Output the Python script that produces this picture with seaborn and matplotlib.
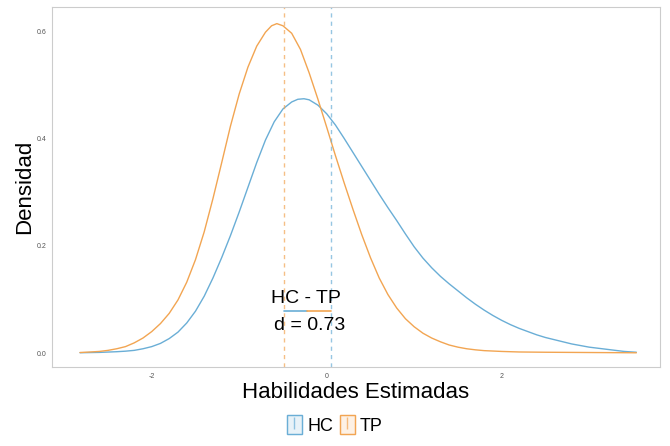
import numpy as np
import pandas as pd
import matplotlib.pyplot as plt
import seaborn as sns
from matplotlib.patches import Patch
from matplotlib.lines import Line2D

# density curves
tp_x = [-2.82, -2.7, -2.6, -2.5, -2.4, -2.3, -2.2, -2.1, -2.0, -1.9, -1.8, -1.7, -1.6, -1.5,
        -1.4, -1.3, -1.2, -1.1, -1.0, -0.9, -0.8, -0.7, -0.63, -0.57, -0.5, -0.4, -0.3, -0.2,
        -0.1, 0.0, 0.1, 0.2, 0.3, 0.4, 0.5, 0.6, 0.7, 0.8, 0.9, 1.0, 1.1, 1.2, 1.3, 1.4, 1.5,
        1.6, 1.7, 1.8, 2.0, 2.2, 2.5, 3.0, 3.54]
tp_y = [0.001, 0.002, 0.003, 0.005, 0.008, 0.012, 0.019, 0.028, 0.040, 0.055, 0.074, 0.099,
        0.132, 0.174, 0.226, 0.288, 0.355, 0.423, 0.483, 0.533, 0.572, 0.598, 0.610, 0.614,
        0.610, 0.596, 0.566, 0.522, 0.473, 0.421, 0.368, 0.317, 0.268, 0.221, 0.178, 0.140,
        0.109, 0.084, 0.064, 0.049, 0.037, 0.028, 0.021, 0.015, 0.011, 0.008, 0.006, 0.0045,
        0.003, 0.002, 0.0015, 0.001, 0.0005]

hc_x = [-2.82, -2.6, -2.4, -2.3, -2.2, -2.1, -2.0, -1.9, -1.8, -1.7, -1.6, -1.5, -1.4, -1.3,
        -1.2, -1.1, -1.0, -0.9, -0.8, -0.7, -0.6, -0.5, -0.4, -0.33, -0.26, -0.2, -0.1, 0.0,
        0.1, 0.2, 0.3, 0.4, 0.5, 0.6, 0.7, 0.8, 0.9, 1.0, 1.1, 1.2, 1.3, 1.4, 1.5, 1.6, 1.7,
        1.8, 1.9, 2.0, 2.1, 2.2, 2.3, 2.4, 2.5, 2.6, 2.7, 2.8, 2.9, 3.0, 3.1, 3.2, 3.3, 3.4, 3.54]
hc_y = [0.0006, 0.0012, 0.0025, 0.0035, 0.005, 0.008, 0.012, 0.018, 0.027, 0.039, 0.056,
        0.078, 0.106, 0.140, 0.178, 0.219, 0.263, 0.309, 0.355, 0.397, 0.431, 0.455, 0.468,
        0.473, 0.474, 0.472, 0.462, 0.446, 0.425, 0.400, 0.374, 0.348, 0.322, 0.296, 0.271,
        0.247, 0.222, 0.198, 0.177, 0.159, 0.143, 0.129, 0.116, 0.103, 0.091, 0.080, 0.070,
        0.061, 0.053, 0.046, 0.040, 0.034, 0.029, 0.025, 0.021, 0.017, 0.014, 0.011, 0.009,
        0.007, 0.005, 0.003, 0.0015]

groups = ["HC", "TP"]
means = [0.05, -0.49]
colors = ["#6aaed6", "#f2a552"]
d_label = "d = 0.73"

df = pd.concat([
    pd.DataFrame({"x": hc_x, "dens": hc_y, "grupo": "HC"}),
    pd.DataFrame({"x": tp_x, "dens": tp_y, "grupo": "TP"}),
])
pal = dict(zip(groups, colors))

sns.set_style("white")
plt.rcParams["font.family"] = ["Liberation Sans", "DejaVu Sans"]
plt.rcParams["text.color"] = "black"
plt.rcParams["axes.labelcolor"] = "black"
plt.rcParams["axes.unicode_minus"] = False

fig, ax = plt.subplots(figsize=(6.7, 4.46), dpi=100)
fig.subplots_adjust(left=52/670, right=660/670, bottom=1-367/446, top=1-7/446)

sns.lineplot(data=df, x="x", y="dens", hue="grupo", palette=pal, linewidth=1.0,
             legend=False, ax=ax, sort=True, solid_joinstyle="round")

for m, c in zip(means, colors):
    ax.axvline(m, color=c, ls=(0, (3, 3)), lw=1.0, alpha=0.7)

# difference segment and annotation
mid = (means[0] + means[1]) / 2
ax.plot([means[1], mid], [0.078, 0.078], color=colors[0], lw=1.2)
ax.plot([mid, means[0]], [0.078, 0.078], color=colors[1], lw=1.2)
ax.text(mid - 0.02, 0.102, "HC - TP", ha="center", va="center", fontsize=14)
ax.text(mid + 0.03, 0.052, d_label, ha="center", va="center", fontsize=14)

ax.set_xlim(-3.14, 3.81)
ax.set_ylim(-0.026, 0.645)
ax.set_xticks([-2, 0, 2])
ax.set_yticks([0.0, 0.2, 0.4, 0.6])
ax.set_yticklabels(["0.0", "0.2", "0.4", "0.6"])
ax.tick_params(axis="both", labelsize=5, colors="#555555", length=2, width=0.6, pad=2)
for s in ax.spines.values():
    s.set_color("#cccccc")
    s.set_linewidth(0.8)

ax.set_xlabel("Habilidades Estimadas", fontsize=16, labelpad=2)
ax.set_ylabel("Densidad", fontsize=16, labelpad=1)

handles = []
for c in colors:
    box = Patch(facecolor=c, alpha=0.15, edgecolor=c, linewidth=1.0)
    edge = Patch(facecolor="none", edgecolor=c, linewidth=1.0)
    dash = Line2D([], [], color=c, marker="|", markersize=8, ls="none", alpha=0.7)
    handles.append((box, edge, dash))
fig.legend(handles, groups, loc="center", bbox_to_anchor=(0.5, 1-425/446), ncol=2,
           frameon=False, fontsize=13, handlelength=0.8, handleheight=1.2,
           columnspacing=0.4, handletextpad=0.3)

fig.savefig("out.png", dpi=100)
